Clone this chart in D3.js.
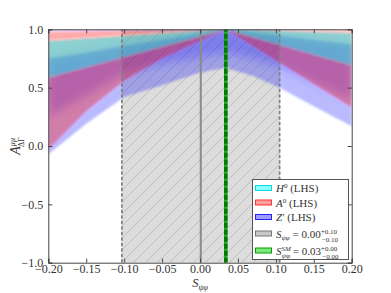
<!DOCTYPE html>
<html>
<head>
<meta charset="utf-8">
<script src="https://cdn.jsdelivr.net/npm/d3@7"></script>
<style>
  body { margin: 0; background: #fff; }
  svg { display: block; font-family: 'Liberation Serif', 'DejaVu Serif', serif; }
</style>
</head>
<body>
<div id="chart"></div>
<script>
// axis ticks
var xTicks = [-0.2, -0.15, -0.1, -0.05, 0, 0.05, 0.1, 0.15, 0.2];
var yTicks = [-1, -0.5, 0, 0.5, 1];

// measured S_psiphi band and SM value
var sCentral = 0.001;
var sBand = [-0.103, 0.105];
var sSM = 0.034;

// allowed regions: [x, low, high]
var h0Region = [
  [-0.2, 0.59, 0.90],
  [0.034, 1.0, 1.0],
  [0.2, 0.695, 0.966]
];
var a0Region = [
  [-0.2, -0.03, 0.98],
  [-0.15, 0.30, 0.985],
  [-0.1, 0.56, 0.99],
  [-0.05, 0.75, 0.995],
  [0.0, 0.90, 1.0],
  [0.034, 1.0, 1.0],
  [0.2, 0.33, 0.99]
];
var zpRegion = [
  [-0.2, -0.07, 0.75],
  [-0.15, 0.19, 0.80],
  [-0.1, 0.42, 0.857],
  [-0.05, 0.52, 0.91],
  [0.0, 0.63, 0.964],
  [0.034, 0.67, 1.0],
  [0.07, 0.60, 0.972],
  [0.105, 0.50, 0.944],
  [0.15, 0.34, 0.909],
  [0.2, 0.17, 0.87]
];
// denser part of the Z' cloud near the apex
var zpCoreRegion = [
  [-0.2, 0.25, 0.75],
  [-0.1, 0.62, 0.857],
  [-0.05, 0.70, 0.91],
  [0.0, 0.76, 0.964],
  [0.034, 0.80, 1.0],
  [0.07, 0.75, 0.972],
  [0.105, 0.68, 0.944],
  [0.2, 0.40, 0.87]
];
var zpTopRegion = [
  [-0.2, 0.985, 1.0],
  [0.034, 0.995, 1.0]
];

var width = 391, height = 293;
var margin = { top: 29.3, right: 39.3, bottom: 30.3, left: 48.3 };

var svg = d3.select('#chart').append('svg')
  .attr('width', width)
  .attr('height', height);

var x = d3.scaleLinear().domain([-0.2, 0.2]).range([margin.left, width - margin.right]);
var y = d3.scaleLinear().domain([-1, 1]).range([height - margin.bottom, margin.top]);

var defs = svg.append('defs');
defs.append('clipPath').attr('id', 'plotclip')
  .append('rect')
  .attr('x', x(-0.2)).attr('y', y(1))
  .attr('width', x(0.2) - x(-0.2)).attr('height', y(-1) - y(1));

var hatch = defs.append('pattern')
  .attr('id', 'hatch')
  .attr('patternUnits', 'userSpaceOnUse')
  .attr('width', 12).attr('height', 12);
hatch.append('rect').attr('width', 12).attr('height', 12).attr('fill', '#dcdcdc');
hatch.append('path')
  .attr('d', 'M-1,13 L13,-1 M-3,3 L3,-3 M9,15 L15,9')
  .attr('stroke', '#b4b4b4').attr('stroke-width', 0.7);

defs.append('filter').attr('id', 'soft')
  .append('feGaussianBlur').attr('stdDeviation', 1.3);
defs.append('filter').attr('id', 'softer')
  .attr('x', '-20%').attr('y', '-20%').attr('width', '140%').attr('height', '140%')
  .append('feGaussianBlur').attr('stdDeviation', 5);

var plot = svg.append('g').attr('clip-path', 'url(#plotclip)');

// S_psiphi band
plot.append('rect')
  .attr('x', x(sBand[0]))
  .attr('y', y(1))
  .attr('width', x(sBand[1]) - x(sBand[0]))
  .attr('height', y(-1) - y(1))
  .attr('fill', 'url(#hatch)');

var area = d3.area()
  .x(function(d) { return x(d[0]); })
  .y0(function(d) { return y(d[1]); })
  .y1(function(d) { return y(d[2]); });

plot.append('path').datum(zpCoreRegion)
  .attr('d', area).attr('fill', '#0000ff').attr('fill-opacity', 0.22)
  .attr('filter', 'url(#softer)');

var regions = plot.append('g').attr('filter', 'url(#soft)');
regions.append('path').datum(zpRegion)
  .attr('d', area).attr('fill', '#0000ff').attr('fill-opacity', 0.27);
regions.append('path').datum(zpTopRegion)
  .attr('d', area).attr('fill', '#0000ff').attr('fill-opacity', 0.22);
regions.append('path').datum(a0Region)
  .attr('d', area).attr('fill', '#ff0000').attr('fill-opacity', 0.33);
regions.append('path').datum(h0Region)
  .attr('d', area).attr('fill', '#00ffff').attr('fill-opacity', 0.45);

// band edges
sBand.forEach(function(v) {
  plot.append('line')
    .attr('x1', x(v)).attr('x2', x(v))
    .attr('y1', y(-1)).attr('y2', y(1))
    .attr('stroke', '#808080').attr('stroke-width', 1.7)
    .attr('stroke-dasharray', '3.5,2');
});
plot.append('line')
  .attr('x1', x(sCentral)).attr('x2', x(sCentral))
  .attr('y1', y(-1)).attr('y2', y(1))
  .attr('stroke', '#8a8a8a').attr('stroke-width', 2);

// SM line
plot.append('line')
  .attr('x1', x(sSM)).attr('x2', x(sSM))
  .attr('y1', y(-1)).attr('y2', y(1))
  .attr('stroke', '#22aa22').attr('stroke-width', 3.5);
plot.append('line')
  .attr('x1', x(sSM)).attr('x2', x(sSM))
  .attr('y1', y(-1)).attr('y2', y(1))
  .attr('stroke', '#007a00').attr('stroke-width', 3.5)
  .attr('stroke-dasharray', '5,2');

// axes
var fmtX = function(d) { return d3.format('.2f')(d).replace('-', '\u2212'); };
var fmtY = function(d) { return d3.format('.1f')(d).replace('-', '\u2212'); };

var xAxis = svg.append('g')
  .attr('transform', 'translate(0,' + y(-1) + ')')
  .call(d3.axisBottom(x).tickValues(xTicks).tickSize(-4).tickPadding(2).tickFormat(fmtX));
var xAxisTop = svg.append('g')
  .attr('transform', 'translate(0,' + y(1) + ')')
  .call(d3.axisTop(x).tickValues(xTicks).tickSize(-4).tickFormat(''));
var yAxis = svg.append('g')
  .attr('transform', 'translate(' + x(-0.2) + ',0)')
  .call(d3.axisLeft(y).tickValues(yTicks).tickSize(-4).tickPadding(5).tickFormat(fmtY));
var yAxisRight = svg.append('g')
  .attr('transform', 'translate(' + x(0.2) + ',0)')
  .call(d3.axisRight(y).tickValues(yTicks).tickSize(-4).tickFormat(''));

[xAxis, xAxisTop, yAxis, yAxisRight].forEach(function(g) {
  g.select('.domain').attr('stroke', '#444').attr('stroke-width', 1);
  g.selectAll('.tick line').attr('stroke', '#444');
  g.selectAll('.tick text')
    .attr('font-family', "'Liberation Serif', serif")
    .attr('font-size', 12)
    .attr('fill', '#333');
});

// axis labels
var xl = svg.append('text')
  .attr('x', x(0)).attr('y', 287)
  .attr('text-anchor', 'middle')
  .attr('fill', '#333')
  .attr('font-size', 12.5);
xl.append('tspan').attr('font-style', 'italic').text('S');
xl.append('tspan').attr('font-size', 8).attr('font-style', 'italic').attr('dy', 3).text('ψφ');

var yl = svg.append('text')
  .attr('transform', 'translate(20,' + y(0) + ') rotate(-90)')
  .attr('text-anchor', 'middle')
  .attr('fill', '#333')
  .attr('font-size', 14);
yl.append('tspan').attr('font-style', 'italic').text('A');
yl.append('tspan').attr('font-size', 8).attr('font-style', 'italic').attr('dy', -5).text('μμ');
yl.append('tspan').attr('font-size', 8).attr('dx', -9).attr('dy', 9).text('ΔΓ');

// legend
var legendItems = [
  { key: 'h0', fill: '#00ffff', stroke: '#00dddd', opacity: 0.45 },
  { key: 'a0', fill: '#ff0000', stroke: '#ff3333', opacity: 0.38 },
  { key: 'zp', fill: '#0000ff', stroke: '#2222ff', opacity: 0.38 },
  { key: 's', fill: '#c8c8c8', stroke: '#777', opacity: 1 },
  { key: 'sm', fill: '#00cc00', stroke: '#00a000', opacity: 0.5 }
];
var rowY = [188, 202.5, 217, 233.5, 250.5];

var legend = svg.append('g');
legend.append('rect')
  .attr('x', 252.5).attr('y', 179.5)
  .attr('width', 96).attr('height', 80)
  .attr('fill', '#fff').attr('stroke', '#555').attr('stroke-width', 1);

legendItems.forEach(function(d, i) {
  legend.append('rect')
    .attr('x', 255.5).attr('y', rowY[i] - 2.5)
    .attr('width', 16).attr('height', 5)
    .attr('fill', d.fill).attr('fill-opacity', d.opacity)
    .attr('stroke', d.stroke).attr('stroke-width', 1);
});

function legendText(i) {
  return legend.append('text')
    .attr('x', 276).attr('y', rowY[i] + 4)
    .attr('font-size', 11)
    .attr('fill', '#333');
}
var t0 = legendText(0);
t0.append('tspan').attr('font-style', 'italic').text('H');
t0.append('tspan').attr('font-size', 7).attr('dy', -4).text('0');
t0.append('tspan').attr('dy', 4).text(' (LHS)');

var t1 = legendText(1);
t1.append('tspan').attr('font-style', 'italic').text('A');
t1.append('tspan').attr('font-size', 7).attr('dy', -4).text('0');
t1.append('tspan').attr('dy', 4).text(' (LHS)');

var t2 = legendText(2);
t2.append('tspan').attr('font-style', 'italic').text('Z');
t2.append('tspan').text('′ (LHS)');

var t3 = legendText(3);
t3.append('tspan').attr('font-style', 'italic').text('S');
t3.append('tspan').attr('font-size', 7).attr('font-style', 'italic').attr('dy', 2).text('ψφ');
t3.append('tspan').attr('dy', -2).text(' = 0.00');
t3.append('tspan').attr('font-size', 7).attr('dy', -4).text('+0.10');
t3.append('tspan').attr('font-size', 7).attr('dx', -15).attr('dy', 8).text('−0.10');

var t4 = legendText(4);
t4.append('tspan').attr('font-style', 'italic').text('S');
t4.append('tspan').attr('font-size', 7).attr('font-style', 'italic').attr('dy', -4).text('SM');
t4.append('tspan').attr('font-size', 7).attr('font-style', 'italic').attr('dx', -9).attr('dy', 7).text('ψφ');
t4.append('tspan').attr('dy', -3).text(' = 0.03');
t4.append('tspan').attr('font-size', 7).attr('dy', -4).text('+0.00');
t4.append('tspan').attr('font-size', 7).attr('dx', -15).attr('dy', 8).text('−0.00');
</script>
</body>
</html>
